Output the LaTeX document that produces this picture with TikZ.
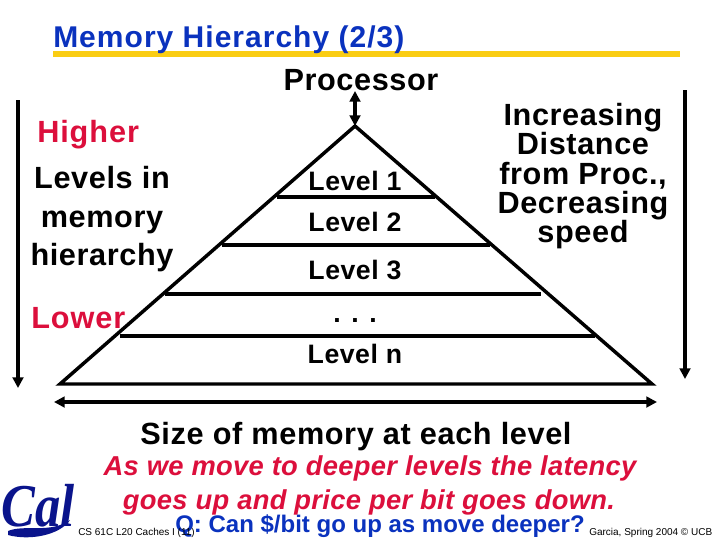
\documentclass[tikz,border=0pt]{standalone}
\usepackage{graphicx}
\usepackage{fontspec}
\setmainfont{Liberation Sans}
\newfontfamily\spaced{Liberation Sans}[LetterSpace=2]
\newfontfamily\spacedw{Liberation Sans}[LetterSpace=3]
\newfontfamily\titlefont{Liberation Sans}[LetterSpace=3.4]
\newfontfamily\spacedi{Liberation Sans}[LetterSpace=1.2]
\newfontfamily\calfont{Liberation Serif}
\usetikzlibrary{arrows.meta}
\definecolor{titleblue}{RGB}{10,50,190}
\definecolor{calred}{RGB}{220,15,60}
\definecolor{gold}{RGB}{250,205,20}
\definecolor{calblue}{RGB}{10,20,140}
\newcommand{\txt}[2]{\fontsize{#1}{#2}\selectfont}
\tikzset{
  x=0.75pt,y=-0.75pt,
  line/.style={line width=2.6pt,black},
  rule/.style={line width=2.3pt,black},
  dbl/.style={line width=2.3pt,black,{Triangle[length=8pt,width=8pt]}-{Triangle[length=8pt,width=8pt]}},
  down/.style={line width=2.3pt,black,-{Triangle[length=8pt,width=8pt]}},
  lbl/.style={inner sep=0pt,anchor=base,black,font=\spaced\bfseries\txt{20}{24}},
  side/.style={inner sep=0pt,align=center,black,font=\spaced\bfseries\txt{23}{29}},
  foot/.style={inner sep=0pt,anchor=base west,black,font=\txt{7.5}{9}},
}
\begin{document}
\begin{tikzpicture}
\useasboundingbox (0,0) rectangle (720,540);
\fill[white] (0,0) rectangle (720,540);
% title
\coordinate (ruleL) at (53,54);\coordinate (ruleR) at (680,54);
\draw[gold,line width=4.2pt] (ruleL) -- (ruleR);
\node[inner sep=0pt,anchor=base west,text=titleblue,font=\titlefont\bfseries\txt{22.5}{27}] (title) at (53,47) {Memory Hierarchy (2/3)};
\node[inner sep=0pt,anchor=base,font=\spaced\bfseries\txt{23}{27}] (proc) at (361,90) {Processor};
% pyramid
\coordinate (apex) at (355,126);\coordinate (bl) at (60,384);\coordinate (br) at (652,384);
\draw[line,line join=miter] (bl) -- (apex) -- (br) -- cycle;
\coordinate (a1) at (277,197);\coordinate (b1) at (435,197);
\coordinate (a2) at (222,245);\coordinate (b2) at (490,245);
\coordinate (a3) at (165,294);\coordinate (b3) at (541,294);
\coordinate (a4) at (120,336);\coordinate (b4) at (595,336);
\foreach \p/\q in {a1/b1,a2/b2,a3/b3,a4/b4} \draw[rule] (\p) -- (\q);
% arrows
\coordinate (pa) at (355,91);
\draw[dbl] (pa) -- (apex);
\coordinate (lt) at (18,100);\coordinate (lb) at (18,388);
\draw[down] (lt) -- (lb);
\coordinate (rt) at (685,90);\coordinate (rb) at (685,379);
\draw[down] (rt) -- (rb);
\coordinate (hl) at (54,402);\coordinate (hr) at (657,402);
\draw[dbl] (hl) -- (hr);
% levels
\node[lbl] (l1) at (355,190) {Level 1};
\node[lbl] (l2) at (355,231) {Level 2};
\node[lbl] (l3) at (355,279) {Level 3};
\node[lbl] (ld) at (355,322) {. . .};
\node[lbl] (ln) at (355,363) {Level n};
% left
\node[inner sep=0pt,anchor=base west,text=calred,font=\spacedw\bfseries\txt{23}{27}] (hi) at (37,142) {Higher};
\node[side,anchor=north] (lev) at (102,166) {Levels in\\memory\\hierarchy};
\node[inner sep=0pt,anchor=base west,text=calred,font=\spacedw\bfseries\txt{23}{27}] (lo) at (31,328) {Lower};
% right
\node[inner sep=0pt,align=center,anchor=north,font=\spaced\bfseries\txt{23}{22}] (inc) at (583,103) {Increasing\\Distance\\from Proc.,\\Decreasing\\speed};
% bottom
\node[inner sep=0pt,anchor=base,font=\spaced\bfseries\txt{23}{27}] (size) at (356,444) {Size of memory at each level};
\node[inner sep=0pt,anchor=base,text=calred,font=\spacedi\bfseries\itshape\txt{20.5}{25}] (s1) at (370,475) {As we move to deeper levels the latency};
\node[inner sep=0pt,anchor=base,text=calred,font=\spacedi\bfseries\itshape\txt{20.5}{25}] (s2) at (369,509) {goes up and price per bit goes down.};
\node[inner sep=0pt,anchor=base west,text=titleblue,font=\bfseries\txt{18}{22}] (q) at (175,532) {Q: Can \$/bit go up as move deeper?};
\node[foot] (f1) at (78,535) {CS 61C L20 Caches I (11)};
\node[foot] (f2) at (589,535) {Garcia, Spring 2004 © UCB};
% logo
\node[inner sep=0pt,anchor=base,text=calblue,font=\calfont\bfseries\itshape\txt{38}{40}] (cal) at (38,526) {\scalebox{1}[1.2]{Cal}};
\fill[calblue] (8,531) .. controls (25,524) and (50,534) .. (70,520) .. controls (60,535) and (30,541) .. (8,535) -- cycle;
\end{tikzpicture}
\end{document}
